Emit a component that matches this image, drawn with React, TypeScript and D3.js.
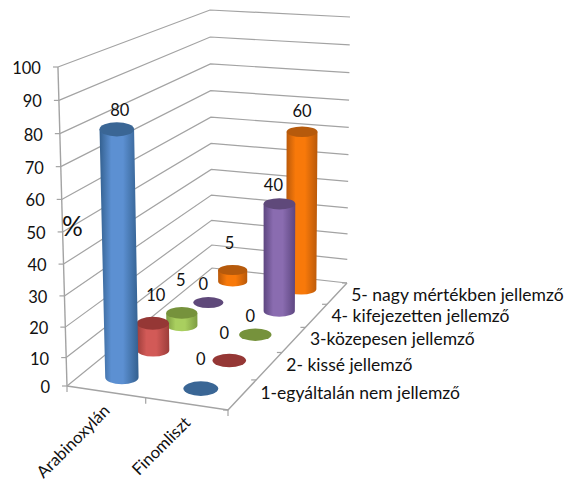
import React from "react";
import * as d3 from "d3";

// Chart data
const products = ["Arabinoxylán", "Finomliszt"];
const levels = [
  "1-egyáltalán nem jellemző",
  "2- kissé jellemző",
  "3-közepesen jellemző",
  "4- kifejezetten jellemző",
  "5- nagy mértékben jellemző",
];
const arabinoxylanValues = [80, 10, 5, 0, 5];
const finomlisztValues = [0, 0, 0, 40, 60];
const percentTicks = [0, 10, 20, 30, 40, 50, 60, 70, 80, 90, 100];

// Styling per depth level: side edge, side centre, cap
const levelColors = [
  ["#33608f", "#5c90d2", "#3a6695"],
  ["#9c3d3a", "#d25a57", "#953735"],
  ["#7d9c42", "#a9cf5f", "#76923c"],
  ["#5d4680", "#8a6cb0", "#5f497a"],
  ["#b9590a", "#f8790a", "#b65a0c"],
];

// Hand-placed data label nudges, [dx, dy] from the cap centre
const labelNudges = [
  [[3, -20], [3, -29], [-1, -34], [-5, -20], [-3, -28]],
  [[0, -31], [-5, -28], [-5, -20], [-6, -20], [0, -22]],
];

const W = 571;
const H = 484;

// Floor corners on screen: front-left, front-right, back-right, back-left
const floorCorners = [[67, 386], [228, 410], [347, 283], [212, 268]];
// Pixel height of the 0-100 range at the same four corners
const cornerHeights = [319, 320, 266, 258];
const vanishing = { x: 266, y: 7400 };

function squareToQuad(q: number[][]) {
  const [[x0, y0], [x1, y1], [x2, y2], [x3, y3]] = q;
  const dx1 = x1 - x2, dx2 = x3 - x2, sx = x0 - x1 + x2 - x3;
  const dy1 = y1 - y2, dy2 = y3 - y2, sy = y0 - y1 + y2 - y3;
  const den = dx1 * dy2 - dx2 * dy1;
  const g = (sx * dy2 - dx2 * sy) / den;
  const h = (dx1 * sy - sx * dy1) / den;
  return (u: number, v: number): [number, number] => {
    const w = g * u + h * v + 1;
    return [
      ((x1 - x0 + g * x1) * u + (x3 - x0 + h * x3) * v + x0) / w,
      ((y1 - y0 + g * y1) * u + (y3 - y0 + h * y3) * v + y0) / w,
    ];
  };
}

const floor = squareToQuad(floorCorners);
const valueScale = d3.scalePow().exponent(1.05).domain([0, 100]).range([0, 1]);
const productScale = d3.scaleLinear().domain([0, 1]).range([0.245, 0.745]);
const levelScale = d3.scaleLinear().domain([0, 4]).range([0.1, 0.9]);

function project(u: number, v: number, value: number): [number, number] {
  const [bx, by] = floor(u, v);
  const full =
    (1 - v) * ((1 - u) * cornerHeights[0] + u * cornerHeights[1]) +
    v * ((1 - u) * cornerHeights[3] + u * cornerHeights[2]);
  const h = full * valueScale(value);
  return [bx + ((bx - vanishing.x) * h) / (vanishing.y - by), by - h];
}

const line = d3.line();
const GRID = "#a3a3a3";
const FONT = "Lato, Carlito, sans-serif";

function Cylinder({ u, v, value, level }: { u: number; v: number; value: number; level: number }) {
  const [x0] = floor(u - 0.108, v);
  const [x1] = floor(u + 0.108, v);
  const rx = (x1 - x0) / 2;
  const ry = (floor(u, v - 0.05)[1] - floor(u, v + 0.05)[1]) / 2;
  const [bx, by] = project(u, v, 0);
  const [tx, ty] = project(u, v, value);
  // The cylinder flares slightly towards the viewer as it rises
  const flare = (vanishing.y - ty) / (vanishing.y - by);
  const trx = rx * flare;
  const cap = levelColors[level][2];
  const body = `M${bx - rx},${by}L${tx - trx},${ty}L${tx + trx},${ty}L${bx + rx},${by}A${rx},${ry} 0 0 1 ${bx - rx},${by}Z`;
  return (
    <g>
      {value > 0 && <path d={body} fill={`url(#side-${level})`} />}
      <ellipse cx={tx} cy={ty} rx={trx} ry={ry} fill={cap} />
    </g>
  );
}

export default function App() {
  const series = [arabinoxylanValues, finomlisztValues];
  const marks = series
    .flatMap((vals, p) =>
      vals.map((value, level) => ({ p, level, value, u: productScale(p), v: levelScale(level) }))
    )
    .sort((a, b) => b.level - a.level || a.p - b.p);

  return (
    <svg
      width={W}
      height={H}
      viewBox={`0 0 ${W} ${H}`}
      style={{ position: "absolute", left: 0, top: 0, background: "#fff" }}
      fontFamily={FONT}
    >
      <defs>
        {levelColors.map((c, i) => (
          <linearGradient id={`side-${i}`} key={i} x1="0" x2="1" y1="0" y2="0">
            <stop offset="0" stopColor={c[0]} />
            <stop offset="0.3" stopColor={c[1]} />
            <stop offset="0.6" stopColor={c[1]} />
            <stop offset="1" stopColor={c[0]} />
          </linearGradient>
        ))}
      </defs>

      {/* Wall gridlines */}
      {percentTicks.map((t) => (
        <path
          key={t}
          d={line([project(0, 0, t), project(0, 1, t), project(1, 1, t)]) as string}
          fill="none"
          stroke={GRID}
          strokeWidth={1.2}
        />
      ))}

      {/* Value axis with ticks and labels */}
      <path d={line([project(0, 0, 0), project(0, 0, 100)]) as string} fill="none" stroke={GRID} strokeWidth={1.4} />
      {percentTicks.map((t) => {
        const [x, y] = project(0, 0, t);
        return (
          <g key={t}>
            <path d={line([[x - 5, y], [x, y]]) as string} stroke={GRID} strokeWidth={1.2} />
            <text x={x - 17} y={y + 7} textAnchor="end" fontSize={16.5} fill="#111">
              {t}
            </text>
          </g>
        );
      })}

      {/* Floor edges and ticks */}
      <path d={line([project(0, 0, 0), project(1, 0, 0), project(1, 1, 0)]) as string} fill="none" stroke={GRID} strokeWidth={1.4} />
      {d3.range(0, 3).map((i) => {
        const [x, y] = floor(i / 2, 0);
        return <path key={i} d={line([[x, y], [x, y + 6]]) as string} stroke={GRID} strokeWidth={1.2} />;
      })}
      {d3.range(0, 6).map((i) => {
        const [x, y] = floor(1, i / 5);
        return <path key={i} d={line([[x - 5, y], [x, y]]) as string} stroke={GRID} strokeWidth={1.2} />;
      })}

      {/* Cylinders, painted back to front */}
      {marks.map((m) => (
        <Cylinder key={`${m.p}-${m.level}`} u={m.u} v={m.v} value={m.value} level={m.level} />
      ))}

      {/* Data labels */}
      {marks.map((m) => {
        const [x, y] = project(m.u, m.v, m.value);
        const [dx, dy] = labelNudges[m.p][m.level];
        return (
          <text key={`${m.p}-${m.level}`} x={x + dx} y={y + dy + 7} textAnchor="middle" fontSize={16.5} fill="#111">
            {m.value}
          </text>
        );
      })}

      {/* Depth axis labels */}
      {levels.map((name, i) => {
        const [x, y] = floor(1, (i + 0.5) / 5);
        return (
          <text key={name} x={x + 18 - i} y={y + 4 + i * 0.9} fontSize={17.5} fill="#111">
            {name}
          </text>
        );
      })}

      {/* Product labels */}
      {products.map((name, i) => {
        const [x, y] = floor((i + 0.5) / 2, 0);
        return (
          <text
            key={name}
            transform={`translate(${x + 5},${y + 20}) rotate(-45)`}
            textAnchor="end"
            fontSize={16.6}
            fill="#111"
          >
            {name}
          </text>
        );
      })}

      <text x={62} y={236} fontSize={26} fill="#111">
        %
      </text>
    </svg>
  );
}
